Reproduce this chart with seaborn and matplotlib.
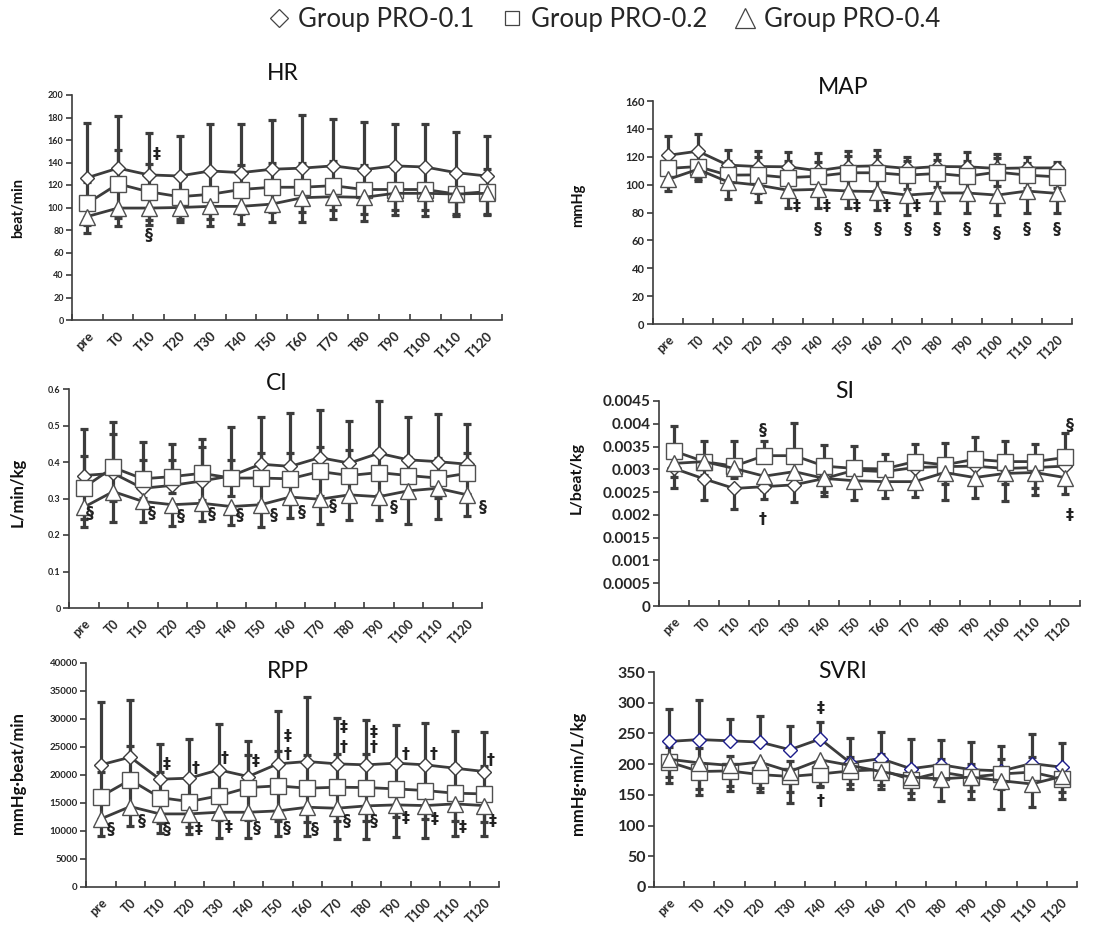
import numpy as np
import pandas as pd
import matplotlib
matplotlib.use("Agg")
import matplotlib.pyplot as plt
import seaborn as sns
from matplotlib.lines import Line2D
from matplotlib.ticker import FixedLocator, FuncFormatter

# ---------------- data ----------------
times = ["pre", "T0", "T10", "T20", "T30", "T40", "T50", "T60",
         "T70", "T80", "T90", "T100", "T110", "T120"]
groups = ["Group PRO-0.1", "Group PRO-0.2", "Group PRO-0.4"]

hr_g1 = [126.5, 135, 129, 128, 132.5, 131, 134, 135, 137, 133.6, 137, 136, 131, 128]
hr_g1_sd = [49, 46, 37, 36, 41.5, 43, 44, 47, 42, 42, 37.5, 38, 36, 36]
hr_g2 = [103.7, 121, 114, 109.6, 111.7, 116, 118, 118, 119.4, 116, 116, 116, 112, 114]
hr_g2_sd = [19, 30, 25, 20, 22, 22, 22, 22, 22, 22, 18, 18, 18, 20]
hr_g3 = [92, 99.5, 99.5, 100, 101, 101, 103, 108.7, 109.6, 109, 112.6, 112.6, 112, 112.6]
hr_g3_sd = [14.4, 15.5, 15, 12.6, 17, 16, 16, 21.3, 19.6, 21, 19.6, 20.2, 19.6, 19.6]

map_g1 = [121, 124, 114, 113, 112.8, 110, 113, 113.5, 111.6, 113, 112.8, 111.6, 112, 112]
map_g1_sd = [13.7, 12, 11, 11, 10.7, 12.8, 11, 11.5, 8.4, 8.8, 10.7, 10.2, 7.5, 4]
map_g2 = [111.6, 113, 106.8, 107, 105, 106, 108.5, 108.5, 106.8, 108, 106, 109, 106.8, 105.6]
map_g2_sd = [9, 9, 10, 13, 12, 10, 12, 12, 10, 10, 11, 10, 9, 8]
map_g3 = [103.7, 111, 102, 99.7, 96, 96.6, 95.4, 95, 92.5, 94, 94, 92.5, 95.4, 93.7]
map_g3_sd = [8.3, 8.5, 12, 12, 13, 13.6, 12.4, 13.2, 14.5, 14, 14.6, 14.5, 15.4, 14.3]

ci_g1 = [0.363, 0.369, 0.328, 0.336, 0.348, 0.362, 0.394, 0.388, 0.412, 0.397, 0.424, 0.406, 0.401, 0.394]
ci_g1_sd = [0.127, 0.14, 0.128, 0.114, 0.115, 0.135, 0.13, 0.147, 0.131, 0.114, 0.143, 0.116, 0.13, 0.11]
ci_g2 = [0.330, 0.385, 0.354, 0.36, 0.369, 0.356, 0.356, 0.354, 0.374, 0.363, 0.371, 0.363, 0.356, 0.369]
ci_g2_sd = [0.087, 0.092, 0.052, 0.046, 0.073, 0.05, 0.068, 0.07, 0.066, 0.07, 0.062, 0.052, 0.054, 0.057]
ci_g3 = [0.276, 0.319, 0.292, 0.283, 0.287, 0.278, 0.283, 0.304, 0.298, 0.31, 0.305, 0.321, 0.328, 0.31]
ci_g3_sd = [0.053, 0.084, 0.057, 0.057, 0.05, 0.05, 0.06, 0.058, 0.067, 0.07, 0.063, 0.09, 0.084, 0.059]

si_g1 = [0.00302, 0.00279, 0.00258, 0.00262, 0.00266, 0.0028, 0.00298, 0.00295, 0.00304, 0.00306, 0.00307, 0.00302, 0.00304, 0.00307]
si_g1_sd = [0.00043, 0.00046, 0.00045, 0.00027, 0.00038, 0.00039, 0.00037, 0.0003, 0.0003, 0.00038, 0.0003, 0.00034, 0.00045, 0.0004]
si_g2 = [0.0034, 0.00317, 0.00307, 0.0033, 0.0033, 0.00307, 0.00302, 0.00301, 0.00317, 0.0031, 0.00322, 0.00317, 0.00317, 0.00326]
si_g2_sd = [0.00056, 0.00046, 0.00056, 0.00033, 0.00072, 0.00046, 0.0005, 0.00033, 0.00039, 0.00048, 0.0005, 0.00046, 0.00038, 0.00053]
si_g3 = [0.00313, 0.00317, 0.00302, 0.00285, 0.00295, 0.0028, 0.00275, 0.00273, 0.00273, 0.00293, 0.00282, 0.00291, 0.00293, 0.00282]
si_g3_sd = [0.0003, 0.0003, 0.00022, 0.0003, 0.0003, 0.0003, 0.00042, 0.00036, 0.00034, 0.0006, 0.00045, 0.00061, 0.00049, 0.00037]

rpp_g1 = [21814, 23185, 19250, 19430, 20920, 19728, 21992, 22410, 21992, 21814, 22112, 21814, 21218, 20622]
rpp_g1_sd = [11150, 10130, 6260, 7030, 8165, 6380, 9480, 11500, 8170, 8050, 6730, 7450, 6675, 7030]
rpp_g2 = [16152, 19132, 15973, 15258, 16271, 17761, 18059, 17642, 17820, 17761, 17522, 17224, 16748, 16628]
rpp_g2_sd = [4300, 6000, 4500, 4500, 4300, 5800, 6300, 6000, 6000, 6000, 5000, 5000, 5000, 5000]
rpp_g3 = [12158, 14364, 13052, 13052, 13350, 13350, 13589, 14244, 14066, 14483, 14662, 14542, 14840, 14542]
rpp_g3_sd = [2980, 3400, 3456, 3576, 4648, 4530, 4411, 5066, 5543, 5901, 5782, 5840, 5662, 5364]

svri_g1 = [237, 240, 238, 236, 223.5, 241, 202, 209, 192.6, 199, 191, 189, 201, 195]
svri_g1_sd = [53, 64, 36, 43, 38, 27.6, 40.5, 43, 49, 41, 45, 41, 48, 39]
svri_g2 = [203.5, 188, 189, 183, 180, 184, 189, 191, 174.7, 187, 179, 184, 187, 176]
svri_g2_sd = [25, 38, 25, 22, 25, 22, 22, 25, 22, 22, 22, 25, 25, 22]
svri_g3 = [208, 202, 198, 203.5, 188, 207, 198, 188, 179, 176, 179, 173, 167.7, 180]
svri_g3_sd = [38, 42, 42, 48.5, 51, 42, 38, 28, 35, 35.5, 36, 45.5, 36.7, 37]

# significance marks: (time, value, symbol, horizontal shift in categories)
hr_marks = [("T10", 146.7, "‡", 0.25), ("T10", 75.5, "§", 0.0)]
map_marks = ([(t, 84.6, "‡", 0.3) for t in ["T30", "T40", "T50", "T60", "T70"]] +
             [(t, 68, "§", 0.0) for t in ["T40", "T50", "T60", "T70", "T80", "T90", "T110", "T120"]] +
             [("T100", 65, "§", 0.0)])
ci_marks = [("pre", 0.258, "§", 0.2), ("T10", 0.258, "§", 0.3), ("T20", 0.251, "§", 0.3),
            ("T30", 0.255, "§", 0.34), ("T40", 0.253, "§", 0.3), ("T50", 0.253, "§", 0.45),
            ("T60", 0.262, "§", 0.39), ("T70", 0.278, "§", 0.45), ("T90", 0.276, "§", 0.5),
            ("T120", 0.276, "§", 0.54)]
si_marks = [("T20", 0.00386, "§", -0.05), ("T20", 0.0019, "†", -0.05),
            ("T120", 0.00397, "§", 0.15), ("T120", 0.00198, "‡", 0.15)]
rpp_marks = [("pre", 10192, "§", 0.35), ("T0", 11682, "§", 0.39), ("T10", 10192, "§", 0.23),
             ("T40", 10370, "§", 0.3), ("T50", 10370, "§", 0.32), ("T60", 10192, "§", 0.26),
             ("T70", 11682, "§", 0.33), ("T80", 11682, "§", 0.26),
             ("T20", 10192, "‡", 0.33), ("T30", 10668, "‡", 0.35), ("T90", 12158, "‡", 0.35),
             ("T100", 11980, "‡", 0.33), ("T110", 10668, "‡", 0.27), ("T120", 11682, "‡", 0.29),
             ("T10", 21814, "‡", 0.23), ("T40", 22410, "‡", 0.26), ("T50", 26880, "‡", 0.32),
             ("T70", 28548, "‡", 0.25), ("T80", 27654, "‡", 0.24),
             ("T20", 21218, "†", 0.2), ("T30", 23006, "†", 0.21), ("T50", 23721, "†", 0.32),
             ("T70", 24972, "†", 0.25), ("T80", 24972, "†", 0.24), ("T90", 23721, "†", 0.35),
             ("T100", 23721, "†", 0.27), ("T120", 22530, "†", 0.2)]
svri_marks = [("T40", 290, "‡", 0.0), ("T40", 139.5, "†", 0.0)]

# ---------------- style ----------------
sns.set_theme(style="ticks")
plt.rcParams["font.family"] = ["Lato", "DejaVu Sans"]
DARK = "#3c3c3c"

W, H = 1107, 927
fig = plt.figure(figsize=(W / 100, H / 100), dpi=100)


def rect(x0, x1, y0, y1):
    return [x0 / W, 1 - y1 / H, (x1 - x0) / W, (y1 - y0) / H]


panels = [
    dict(title="HR", ylabel="beat/min", means=[hr_g1, hr_g2, hr_g3], sds=[hr_g1_sd, hr_g2_sd, hr_g3_sd],
         dirs=["up", "both", "down"], ymax=200, step=20, marks=hr_marks,
         rect=rect(72, 502, 95, 320), tpos=(283, 74), lpos=(18, 208), yfs=6.5, xfs=9.5, lfs=10.5, dcol=DARK),
    dict(title="MAP", ylabel="mmHg", means=[map_g1, map_g2, map_g3], sds=[map_g1_sd, map_g2_sd, map_g3_sd],
         dirs=["up", "both", "down"], ymax=160, step=20, marks=map_marks,
         rect=rect(653, 1072, 101, 324), tpos=(843, 87), lpos=(578, 205), yfs=8, xfs=9, lfs=10.5, dcol=DARK),
    dict(title="CI", ylabel="L/min/kg", means=[ci_g1, ci_g2, ci_g3], sds=[ci_g1_sd, ci_g2_sd, ci_g3_sd],
         dirs=["up", "both", "down"], ymax=0.6, step=0.1, marks=ci_marks,
         rect=rect(69, 482, 389, 608), tpos=(277, 383), lpos=(18, 492), yfs=6.5, xfs=9, lfs=12, dcol=DARK),
    dict(title="SI", ylabel="L/beat/kg", means=[si_g1, si_g2, si_g3], sds=[si_g1_sd, si_g2_sd, si_g3_sd],
         dirs=["down", "up", "down"], ymax=0.0045, step=0.0005, marks=si_marks,
         rect=rect(659, 1080, 401, 606), tpos=(845, 392), lpos=(577, 478), yfs=11, xfs=9, lfs=11.5, dcol=DARK),
    dict(title="RPP", ylabel="mmHg·beat/min", means=[rpp_g1, rpp_g2, rpp_g3], sds=[rpp_g1_sd, rpp_g2_sd, rpp_g3_sd],
         dirs=["up", "both", "down"], ymax=40000, step=5000, marks=rpp_marks,
         rect=rect(86, 499, 663, 887), tpos=(288, 671), lpos=(18, 773), yfs=7, xfs=9, lfs=12, dcol=DARK),
    dict(title="SVRI", ylabel="mmHg·min/L/kg", means=[svri_g1, svri_g2, svri_g3], sds=[svri_g1_sd, svri_g2_sd, svri_g3_sd],
         dirs=["up", "both", "down"], ymax=350, step=50, marks=svri_marks,
         rect=rect(654, 1077, 672, 887), tpos=(843, 672), lpos=(578, 773), yfs=11.5, xfs=9, lfs=12, dcol="#1c1c8a"),
]

marker_style = [("D", 7.5), ("s", 11), ("^", 11)]
xpos = np.arange(len(times))
idx = {t: i for i, t in enumerate(times)}

for p in panels:
    ax = fig.add_axes(p["rect"])
    for gi, (g, m, sd, d) in enumerate(zip(groups, p["means"], p["sds"], p["dirs"])):
        m = np.asarray(m, float)
        sd = np.asarray(sd, float)
        lo = sd if d in ("down", "both") else np.zeros_like(sd)
        hi = sd if d in ("up", "both") else np.zeros_like(sd)
        ax.errorbar(xpos, m, yerr=[lo, hi], fmt="none", ecolor=DARK, elinewidth=2.3,
                    capsize=3, capthick=2.3, zorder=2)
    for gi, (g, m) in enumerate(zip(groups, p["means"])):
        df = pd.DataFrame({"x": xpos, "value": m, "group": g})
        mk, ms = marker_style[gi]
        mec = p["dcol"] if gi == 0 else "#505050"
        sns.lineplot(data=df, x="x", y="value", ax=ax, color=DARK, linewidth=2,
                     marker=mk, markersize=ms, markerfacecolor="white", markeredgecolor=mec,
                     markeredgewidth=1, legend=False, zorder=3 + gi * 0.1)
    for t, v, s, dx in p["marks"]:
        ax.text(idx[t] + dx, v, s, ha="center", va="center", fontsize=11.5, fontweight="bold",
                color="#222222", family=["DejaVu Sans"], zorder=5)

    ax.set_xlim(-0.5, len(times) - 0.5)
    ax.set_ylim(0, p["ymax"])
    ax.set_xlabel("")
    ax.set_ylabel("")
    ax.xaxis.set_major_locator(FixedLocator(xpos))
    ax.set_xticklabels(times, rotation=45, ha="right", rotation_mode="anchor",
                       fontsize=p["xfs"], fontweight="bold")
    ax.xaxis.set_minor_locator(FixedLocator(np.arange(-0.5, len(times), 1.0)))
    ax.tick_params(axis="x", which="major", length=0, pad=7)
    ax.tick_params(axis="x", which="minor", length=4, width=1.2, direction="in", color=DARK)
    yt = np.round(np.arange(0, p["ymax"] + p["step"] / 2, p["step"]), 6)
    ax.set_yticks(yt)
    ax.yaxis.set_major_formatter(FuncFormatter(lambda v, pos: "{:g}".format(round(v, 6))))
    ax.tick_params(axis="y", length=4, width=1.2, direction="out", color=DARK, pad=2)
    for lab in ax.get_yticklabels():
        lab.set_fontsize(p["yfs"])
        lab.set_fontweight("bold")
    for sp in ["top", "right"]:
        ax.spines[sp].set_visible(False)
    for sp in ["left", "bottom"]:
        ax.spines[sp].set_color(DARK)
        ax.spines[sp].set_linewidth(1.2)
    ax.set_facecolor("white")

    fig.text(p["tpos"][0] / W, 1 - p["tpos"][1] / H, p["title"], ha="center", va="center",
             fontsize=16.5, color="#111111")
    fig.text(p["lpos"][0] / W, 1 - p["lpos"][1] / H, p["ylabel"], ha="center", va="center",
             rotation=90, fontsize=p["lfs"], fontweight="bold", color="#111111")

legend_markers = [("D", 9.5), ("s", 10.5), ("^", 14)]
handles = [Line2D([], [], linestyle="none", marker=mk, markersize=ms, markerfacecolor="white",
                  markeredgecolor="#444444", markeredgewidth=0.9)
           for mk, ms in legend_markers]
fig.legend(handles, groups, loc="center", bbox_to_anchor=(604 / W, 1 - 19 / H), ncol=3,
           frameon=False, fontsize=18.5, handlelength=0.9, handletextpad=0.3, columnspacing=1.0,
           borderpad=0.2)

fig.savefig("out.png", dpi=100, facecolor="white")
